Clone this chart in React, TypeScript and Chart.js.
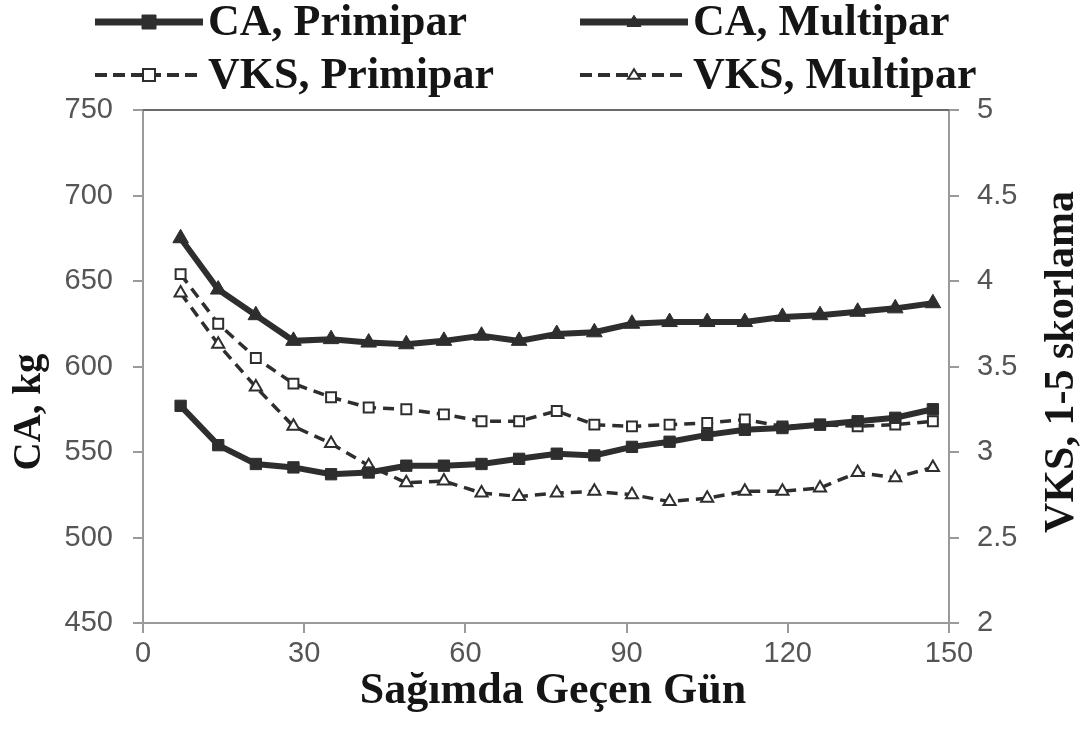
import React, { useEffect, useRef } from "react";
import { Chart, registerables } from "chart.js";

Chart.register(...registerables);

const days = [7, 14, 21, 28, 35, 42, 49, 56, 63, 70, 77, 84, 91, 98, 105, 112, 119, 126, 133, 140, 147];
const caPrimipar = [577, 554, 543, 541, 537, 538, 542, 542, 543, 546, 549, 548, 553, 556, 560, 563, 564, 566, 568, 570, 575];
const caMultipar = [675, 645, 630, 615, 616, 614, 613, 615, 618, 615, 619, 620, 625, 626, 626, 626, 629, 630, 632, 634, 637];
const vksPrimipar = [4.04, 3.75, 3.55, 3.4, 3.32, 3.26, 3.25, 3.22, 3.18, 3.18, 3.24, 3.16, 3.15, 3.16, 3.17, 3.19, 3.15, 3.16, 3.15, 3.16, 3.18];
const vksMultipar = [3.93, 3.63, 3.38, 3.15, 3.05, 2.92, 2.82, 2.83, 2.76, 2.74, 2.76, 2.77, 2.75, 2.71, 2.73, 2.77, 2.77, 2.79, 2.88, 2.85, 2.91];

const seriesLabels = ["CA, Primipar", "CA, Multipar", "VKS, Primipar", "VKS, Multipar"];
const xTitle = "Sağımda Geçen Gün";
const yTitle = "CA, kg";
const y1Title = "VKS, 1-5 skorlama";

const DARK = "#2e2e2e";
const AXIS = "#9a9a9a";
const TICK_TEXT = "#555555";
const TEXT = "#151515";

const toXY = (ys: number[]) => days.map((d, i) => ({ x: d, y: ys[i] }));

function drawMarker(ctx: CanvasRenderingContext2D, style: string, x: number, y: number, r: number, filled: boolean) {
  ctx.save();
  ctx.setLineDash([]);
  ctx.beginPath();
  if (style === "rect") {
    ctx.rect(x - r, y - r, 2 * r, 2 * r);
  } else {
    const h = r * 1.6;
    ctx.moveTo(x, y - h * 0.6);
    ctx.lineTo(x + r, y + h * 0.4);
    ctx.lineTo(x - r, y + h * 0.4);
    ctx.closePath();
  }
  ctx.fillStyle = filled ? DARK : "#ffffff";
  ctx.fill();
  ctx.lineWidth = filled ? 1 : 2;
  ctx.strokeStyle = DARK;
  ctx.stroke();
  ctx.restore();
}

const overlay = {
  id: "overlay",
  afterDraw(chart: any) {
    const ctx: CanvasRenderingContext2D = chart.ctx;
    const a = chart.chartArea;
    ctx.save();
    // top frame line
    ctx.strokeStyle = "#6a6a6a";
    ctx.lineWidth = 2;
    ctx.beginPath();
    ctx.moveTo(a.left, a.top);
    ctx.lineTo(a.right, a.top);
    ctx.stroke();

    // axis titles
    ctx.fillStyle = TEXT;
    ctx.textAlign = "center";
    ctx.textBaseline = "middle";
    ctx.font = 'bold 39px "Liberation Serif"';
    ctx.save();
    ctx.translate(30, 412);
    ctx.rotate(-Math.PI / 2);
    ctx.fillText(yTitle, 0, 0);
    ctx.restore();
    ctx.font = 'bold 42px "Liberation Serif"';
    ctx.save();
    ctx.translate(1062, 362);
    ctx.rotate(-Math.PI / 2);
    ctx.fillText(y1Title, 0, 0);
    ctx.restore();
    ctx.font = 'bold 44px "Liberation Serif"';
    ctx.fillText(xTitle, 553, 692);

    // legend
    const items = [
      { label: seriesLabels[0], x: 95, y: 22, dashed: false, style: "rect" },
      { label: seriesLabels[1], x: 580, y: 22, dashed: false, style: "triangle" },
      { label: seriesLabels[2], x: 95, y: 75, dashed: true, style: "rect" },
      { label: seriesLabels[3], x: 580, y: 75, dashed: true, style: "triangle" },
    ];
    ctx.font = 'bold 44px "Liberation Serif"';
    ctx.textAlign = "left";
    for (const it of items) {
      ctx.save();
      ctx.strokeStyle = DARK;
      if (it.dashed) {
        ctx.lineWidth = 4;
        ctx.setLineDash([12, 6]);
      } else {
        ctx.lineWidth = 7;
        ctx.setLineDash([]);
      }
      ctx.beginPath();
      ctx.moveTo(it.x, it.y);
      ctx.lineTo(it.x + 108, it.y);
      ctx.stroke();
      ctx.restore();
      drawMarker(ctx, it.style, it.x + 54, it.y, it.dashed ? 6 : 7, !it.dashed);
      ctx.fillStyle = TEXT;
      ctx.fillText(it.label, it.x + 113, it.y + 2);
    }
    ctx.restore();
  },
};

export default function App() {
  const ref = useRef<HTMLCanvasElement | null>(null);
  useEffect(() => {
    if (!ref.current) return;
    const tickFont = { family: '"Liberation Sans"', size: 29 };
    const chart = new Chart(ref.current, {
      type: "line",
      data: {
        datasets: [
          {
            label: seriesLabels[0],
            data: toXY(caPrimipar),
            yAxisID: "y",
            borderColor: DARK,
            backgroundColor: DARK,
            borderWidth: 6,
            pointStyle: "rect",
            pointRadius: 8,
            pointBorderWidth: 1,
            order: 0,
          },
          {
            label: seriesLabels[1],
            data: toXY(caMultipar),
            yAxisID: "y",
            borderColor: DARK,
            backgroundColor: DARK,
            borderWidth: 6,
            pointStyle: "triangle",
            pointRadius: 9,
            pointBorderWidth: 1,
            order: 0,
          },
          {
            label: seriesLabels[2],
            data: toXY(vksPrimipar),
            yAxisID: "y1",
            borderColor: DARK,
            backgroundColor: "#ffffff",
            borderWidth: 3.5,
            borderDash: [11, 7],
            pointStyle: "rect",
            pointRadius: 7,
            pointBorderWidth: 2,
            order: 1,
          },
          {
            label: seriesLabels[3],
            data: toXY(vksMultipar),
            yAxisID: "y1",
            borderColor: DARK,
            backgroundColor: "#ffffff",
            borderWidth: 3.5,
            borderDash: [11, 7],
            pointStyle: "triangle",
            pointRadius: 7,
            pointBorderWidth: 2,
            order: 1,
          },
        ],
      },
      options: {
        animation: false,
        responsive: false,
        maintainAspectRatio: false,
        devicePixelRatio: 1,
        layout: { padding: { top: 110, left: 0, right: 0, bottom: 0 } },
        plugins: {
          legend: { display: false },
          tooltip: { enabled: false },
          title: { display: false },
        },
        elements: { line: { tension: 0 } },
        scales: {
          x: {
            type: "linear",
            min: 0,
            max: 150,
            ticks: { stepSize: 30, font: tickFont, color: TICK_TEXT, padding: 4, maxRotation: 0 },
            grid: { drawOnChartArea: false, drawTicks: true, tickLength: 10, color: AXIS, lineWidth: 2 },
            border: { display: true, color: AXIS, width: 2 },
            afterFit: (s: any) => {
              s.height = 738 - 623;
            },
          },
          y: {
            type: "linear",
            position: "left",
            min: 450,
            max: 750,
            ticks: { stepSize: 50, font: tickFont, color: TICK_TEXT, padding: 20 },
            grid: { drawOnChartArea: false, drawTicks: true, tickLength: 10, color: AXIS, lineWidth: 2 },
            border: { display: true, color: AXIS, width: 2 },
            afterFit: (s: any) => {
              s.width = 143;
            },
          },
          y1: {
            type: "linear",
            position: "right",
            min: 2,
            max: 5,
            ticks: {
              stepSize: 0.5,
              font: tickFont,
              color: TICK_TEXT,
              padding: 18,
              callback: (v: any) => String(v),
            },
            grid: { drawOnChartArea: false, drawTicks: true, tickLength: 10, color: AXIS, lineWidth: 2 },
            border: { display: true, color: AXIS, width: 2 },
            afterFit: (s: any) => {
              s.width = 1086 - 949;
            },
          },
        },
      },
      plugins: [overlay],
    } as any);
    return () => chart.destroy();
  }, []);
  return (
    <div style={{ position: "fixed", left: 0, top: 0, width: 1086, height: 738, background: "#ffffff" }}>
      <canvas ref={ref} width={1086} height={738} style={{ display: "block" }} />
    </div>
  );
}
